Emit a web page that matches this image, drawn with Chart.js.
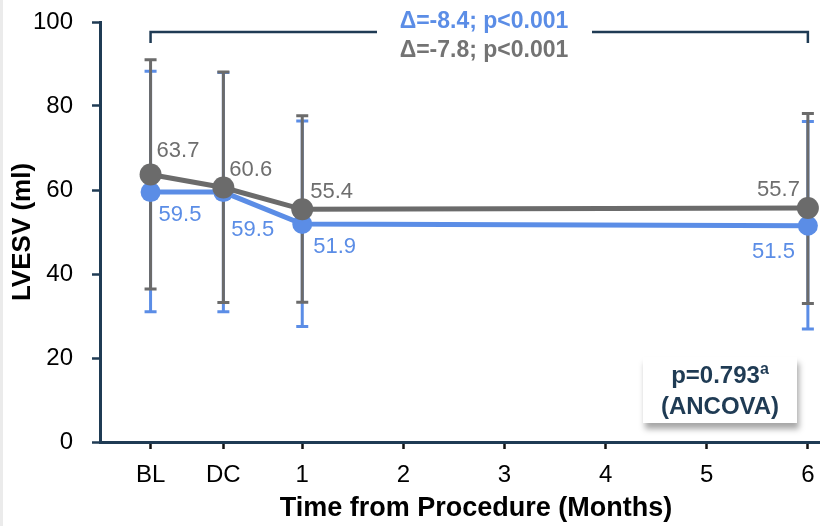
<!DOCTYPE html>
<html>
<head>
<meta charset="utf-8">
<script src="https://cdn.jsdelivr.net/npm/chart.js@4.4.0/dist/chart.umd.min.js"></script>
<style>
  html, body { margin: 0; padding: 0; background: #fff; }
  #wrap { position: relative; width: 830px; height: 526px; }
  #edge { position: absolute; left: 0; top: 0; width: 3px; height: 526px; background: #ebebeb; }
  .stat-box {
    position: absolute; left: 643px; top: 357px; width: 154px; height: 66px;
    box-sizing: border-box; padding-top: 2px;
    background: #fff; box-shadow: 2px 6px 6px rgba(0, 0, 0, 0.35);
    font: bold 24px "Liberation Sans", Arial, sans-serif; color: #1f3b54;
    text-align: center; line-height: 31px;
  }
  .stat-box sup { font-size: 16px; line-height: 0; vertical-align: 9px; }
</style>
</head>
<body>
<div id="wrap">
  <canvas id="lvesvChart" width="830" height="526"></canvas>
  <div id="edge"></div>
  <div class="stat-box">p=0.793<sup>a</sup><br>(ANCOVA)</div>
</div>
<script>
// time points (months from procedure); BL and DC sit before month 1
const tickLabels = ['BL', 'DC', '1', '2', '3', '4', '5', '6'];
const tickPositions = [-0.5, 0.22, 1, 2, 3, 4, 5, 6];
const measuredAt = [-0.5, 0.22, 1, 6];
const yTicks = [0, 20, 40, 60, 80, 100];

const grayMean = [63.7, 60.6, 55.4, 55.7];
const grayUpper = [91.0, 88.1, 77.7, 78.2];
const grayLower = [36.4, 33.2, 33.3, 33.0];

const blueMean = [59.5, 59.5, 51.9, 51.5];
const blueUpper = [88.3, 88.0, 76.4, 76.3];
const blueLower = [31.0, 31.0, 27.5, 26.9];

const blueStat = 'Δ=-8.4; p<0.001';
const grayStat = 'Δ=-7.8; p<0.001';
const xTitle = 'Time from Procedure (Months)';

const FONT = '"Liberation Sans", Arial, sans-serif';
const NAVY = '#1f3b54';
const GRAY = '#6b6b6b';
const BLUE = '#5b8de6';

// label offsets from each point (px), to keep the numbers clear of the lines
const grayLabelOffsets = [[6, -24, 'left'], [6, -18, 'left'], [8, -17, 'left'], [-8, -18, 'right']];
const blueLabelOffsets = [[8, 23, 'left'], [8, 38, 'left'], [11, 23, 'left'], [-13, 26, 'right']];

const toPoints = (vals) => vals.map((v, i) => ({ x: measuredAt[i], y: v }));

const errorBars = {
  id: 'errorBars',
  beforeDatasetsDraw(chart) {
    const { ctx, scales: { x, y } } = chart;
    // blue first so the gray bars sit on top
    [1, 0].forEach((di) => {
      const ds = chart.data.datasets[di];
      ctx.save();
      ctx.strokeStyle = ds.borderColor;
      ctx.lineWidth = 3;
      ds.errUpper.forEach((up, i) => {
        const px = x.getPixelForValue(measuredAt[i]);
        const top = y.getPixelForValue(up);
        const bot = y.getPixelForValue(ds.errLower[i]);
        ctx.beginPath();
        ctx.moveTo(px, top); ctx.lineTo(px, bot);
        ctx.moveTo(px - 6, top); ctx.lineTo(px + 6, top);
        ctx.moveTo(px - 6, bot); ctx.lineTo(px + 6, bot);
        ctx.stroke();
      });
      ctx.restore();
    });
  }
};

const pointLabels = {
  id: 'pointLabels',
  afterDatasetsDraw(chart) {
    const ctx = chart.ctx;
    chart.data.datasets.forEach((ds, di) => {
      const meta = chart.getDatasetMeta(di);
      ctx.save();
      ctx.font = '22px ' + FONT;
      ctx.fillStyle = ds.labelColor;
      ctx.textBaseline = 'middle';
      meta.data.forEach((pt, i) => {
        const [dx, dy, align] = ds.labelOffsets[i];
        ctx.textAlign = align;
        ctx.fillText(ds.data[i].y.toFixed(1), pt.x + dx, pt.y + dy);
      });
      ctx.restore();
    });
  }
};

const bracket = {
  id: 'bracket',
  afterDraw(chart) {
    const { ctx, scales: { x, y } } = chart;
    const x1 = x.getPixelForValue(measuredAt[0]);
    const x2 = x.getPixelForValue(measuredAt[3]);
    const yTop = y.getPixelForValue(97.6);
    const yEnd = y.getPixelForValue(95);
    ctx.save();
    ctx.strokeStyle = NAVY;
    ctx.lineWidth = 2.5;
    ctx.beginPath();
    ctx.moveTo(x1, yEnd); ctx.lineTo(x1, yTop); ctx.lineTo(377, yTop);
    ctx.moveTo(592, yTop); ctx.lineTo(x2, yTop); ctx.lineTo(x2, yEnd);
    ctx.stroke();
    ctx.font = 'bold 23px ' + FONT;
    ctx.textAlign = 'center';
    ctx.textBaseline = 'alphabetic';
    ctx.fillStyle = BLUE;
    ctx.fillText(blueStat, 484, 28);
    ctx.fillStyle = '#737373';
    ctx.fillText(grayStat, 484, 57);
    // x axis title, a little right of the plot centre as in the slide
    ctx.font = 'bold 27px ' + FONT;
    ctx.fillStyle = '#000';
    ctx.textBaseline = 'middle';
    ctx.fillText(xTitle, 476, 509);
    ctx.restore();
  }
};

new Chart(document.getElementById('lvesvChart'), {
  type: 'line',
  data: {
    datasets: [
      {
        label: 'Gray group',
        data: toPoints(grayMean),
        errUpper: grayUpper, errLower: grayLower,
        labelOffsets: grayLabelOffsets, labelColor: '#6e6e6e',
        borderColor: GRAY, backgroundColor: GRAY,
        borderWidth: 5, pointRadius: 11, pointBorderWidth: 0,
        order: 0
      },
      {
        label: 'Blue group',
        data: toPoints(blueMean),
        errUpper: blueUpper, errLower: blueLower,
        labelOffsets: blueLabelOffsets, labelColor: BLUE,
        borderColor: BLUE, backgroundColor: BLUE,
        borderWidth: 5, pointRadius: 10, pointBorderWidth: 0,
        order: 1
      }
    ]
  },
  options: {
    responsive: false,
    animation: false,
    layout: { padding: { top: 22, left: 0, right: 0, bottom: 0 } },
    plugins: { legend: { display: false }, tooltip: { enabled: false } },
    scales: {
      x: {
        type: 'linear', min: -1, max: 6.11,
        afterBuildTicks: (s) => { s.ticks = tickPositions.map((v) => ({ value: v })); },
        afterFit: (s) => { s.height = 84; },
        ticks: {
          autoSkip: false, maxRotation: 0, padding: 12, color: '#000',
          font: { family: FONT, size: 24 },
          callback: (v) => tickLabels[tickPositions.indexOf(v)]
        },
        grid: { drawOnChartArea: false, tickLength: 7, tickWidth: 2.5, tickColor: '#111' },
        border: { color: NAVY, width: 3 }
      },
      y: {
        min: 0, max: 100,
        afterBuildTicks: (s) => { s.ticks = yTicks.map((v) => ({ value: v })); },
        // tick padding also inflates the vertical margins; drop them so the plot keeps its height
        afterFit: (s) => { s.width = 100; s.paddingTop = 0; s.paddingBottom = 0; },
        ticks: { padding: 19, color: '#000', font: { family: FONT, size: 24 } },
        grid: { drawOnChartArea: false, tickLength: 8, tickWidth: 2.5, tickColor: NAVY },
        border: { color: NAVY, width: 3 },
        title: {
          display: true, text: 'LVESV (ml)', color: '#000',
          font: { family: FONT, size: 26, weight: 'bold' }, padding: { top: 7 }
        }
      }
    }
  },
  plugins: [errorBars, pointLabels, bracket]
});
</script>
</body>
</html>
